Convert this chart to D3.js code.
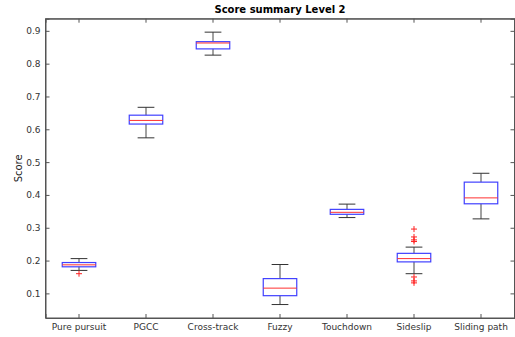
<!DOCTYPE html>
<html><head><meta charset="utf-8">
<script src="https://cdn.jsdelivr.net/npm/d3@7"></script>
<style>body{margin:0;background:#fff}svg{display:block}text{font-family:"DejaVu Sans",sans-serif}</style>
</head><body>
<svg id="c" width="515" height="337"></svg>
<script>
const categories = ["Pure pursuit","PGCC","Cross-track","Fuzzy","Touchdown","Sideslip","Sliding path"];
const whiskerLow  = [0.170,0.574,0.826,0.066,0.331,0.160,0.327];
const q1          = [0.181,0.616,0.845,0.093,0.341,0.196,0.373];
const medians     = [0.187,0.627,0.863,0.116,0.347,0.206,0.391];
const q3          = [0.194,0.643,0.867,0.145,0.356,0.222,0.439];
const whiskerHigh = [0.206,0.667,0.896,0.188,0.372,0.241,0.466];
const outliers    = [[0.160],[],[],[],[],[0.296,0.272,0.263,0.258,0.150,0.138,0.132],[]];
const yTicks = [0.1,0.2,0.3,0.4,0.5,0.6,0.7,0.8,0.9];

const svg = d3.select("#c");
const L=45.5,R=514.5,T=18.7,B=318;
const x = d3.scaleBand().domain(categories).range([L,R]).padding(0);
const y = d3.scaleLinear().domain([0.025,0.937]).range([B,T]);
const axisColor="#555", textColor="#333";

svg.append("rect").attr("x",L).attr("y",T).attr("width",R-L).attr("height",B-T)
  .attr("fill","#fff").attr("stroke",axisColor).attr("stroke-width",1);

const ya = svg.append("g").attr("transform",`translate(${L},0)`)
  .call(d3.axisLeft(y).tickValues(yTicks).tickSize(-4).tickPadding(5).tickFormat(d3.format(".1f")));
const yr = svg.append("g").attr("transform",`translate(${R},0)`)
  .call(d3.axisRight(y).tickValues(yTicks).tickSize(-4).tickFormat(""));
const xa = svg.append("g").attr("transform",`translate(0,${B})`)
  .call(d3.axisBottom(x).tickSize(-4).tickPadding(6));
const xt = svg.append("g").attr("transform",`translate(0,${T})`)
  .call(d3.axisTop(x).tickSize(-4).tickFormat(""));
[ya,yr,xa,xt].forEach(g=>{
  g.select(".domain").attr("stroke",axisColor);
  g.selectAll(".tick line").attr("stroke",axisColor);
  g.selectAll("text").attr("fill",textColor).style("font-size","9px");
});

const idx = d3.range(categories.length);
const cx = i => x(categories[i]) + x.bandwidth()/2;
const bw = x.bandwidth()*0.5, ww = x.bandwidth()*0.25;
const g = svg.append("g");
idx.forEach(i=>{
  const c=cx(i);
  g.append("line").attr("x1",c).attr("x2",c).attr("y1",y(q3[i])).attr("y2",y(whiskerHigh[i])).attr("stroke","#444").attr("stroke-width",1);
  g.append("line").attr("x1",c).attr("x2",c).attr("y1",y(q1[i])).attr("y2",y(whiskerLow[i])).attr("stroke","#444").attr("stroke-width",1);
  [whiskerHigh[i],whiskerLow[i]].forEach(v=>{
    g.append("line").attr("x1",c-ww/2).attr("x2",c+ww/2).attr("y1",y(v)).attr("y2",y(v)).attr("stroke","#333").attr("stroke-width",1);
  });
  g.append("rect").attr("x",c-bw/2).attr("y",y(q3[i])).attr("width",bw).attr("height",y(q1[i])-y(q3[i]))
    .attr("fill","none").attr("stroke","#4040ff").attr("stroke-width",1.2);
  g.append("line").attr("x1",c-bw/2).attr("x2",c+bw/2).attr("y1",y(medians[i])).attr("y2",y(medians[i])).attr("stroke","#ff3030").attr("stroke-width",1);
  outliers[i].forEach(v=>{
    const py=y(v);
    g.append("path").attr("d",`M${c-3},${py}H${c+3}M${c},${py-3}V${py+3}`).attr("stroke","#ff2020").attr("stroke-width",1);
  });
});

svg.append("text").attr("x",(L+R)/2).attr("y",13).attr("text-anchor","middle")
  .style("font-size","10px").style("font-weight","bold").attr("fill","#000").text("Score summary Level 2");
svg.append("text").attr("transform",`translate(22,${(T+B)/2}) rotate(-90)`).attr("text-anchor","middle")
  .style("font-size","10px").attr("fill","#222").text("Score");
</script>
</body></html>
